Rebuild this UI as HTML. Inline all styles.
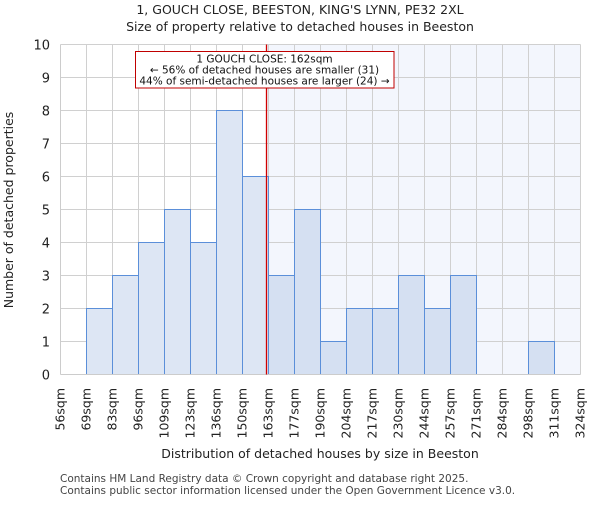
<!DOCTYPE html>
<html><head><meta charset="utf-8"><style>
body{margin:0;background:#fff}
svg{font-family:"DejaVu Sans","Liberation Sans",sans-serif}
</style></head><body>
<svg width="600" height="500" xmlns="http://www.w3.org/2000/svg">
<g id="root"></g>
</svg>
<script>
const binEdges=[56,69,83,96,109,123,136,150,163,177,190,204,217,230,244,257,271,284,298,311,324];
const counts=[0,2,3,4,5,4,8,6,3,5,1,2,2,3,2,3,0,0,1,0];
const yTicks=[0,1,2,3,4,5,6,7,8,9,10];
const markerValue=162;
const L=60.5,R=580.5,T=44.5,B=374.5,yMax=10;
const NS="http://www.w3.org/2000/svg";
const root=document.getElementById('root');
function xi(i){return L+(R-L)*i/(binEdges.length-1);}
function xv(v){for(let i=0;i<binEdges.length-1;i++){if(v<=binEdges[i+1]){return xi(i)+(v-binEdges[i])/(binEdges[i+1]-binEdges[i])*(xi(i+1)-xi(i));}}return R;}
function y(v){return B-(B-T)*v/yMax;}
function mk(t,a,txt){const e=document.createElementNS(NS,t);for(const k in a)e.setAttribute(k,a[k]);if(txt!==undefined)e.textContent=txt;root.appendChild(e);return e;}
let e;
const mx=xv(markerValue);
e=mk('rect',{x:mx,y:T,width:R-mx,height:B-T,fill:'#f3f6fd'});


for(const t of yTicks){e=mk('line',{x1:L,x2:R,y1:y(t),y2:y(t),stroke:'#d0d0d0','stroke-width':1});

}
for(let i=0;i<binEdges.length;i++){e=mk('line',{x1:xi(i),x2:xi(i),y1:T,y2:B,stroke:'#d0d0d0','stroke-width':1});

}
for(let i=0;i<counts.length;i++){if(!counts[i])continue;
e=mk('rect',{x:xi(i),y:y(counts[i]),width:xi(i+1)-xi(i),height:B-y(counts[i]),fill:xi(i)>=mx?'#d5e0f2':'#dde6f4',stroke:'#5b8fd9','stroke-width':1});

}
e=mk('line',{x1:L,x2:L,y1:T,y2:B,stroke:'#ccc'});


e=mk('line',{x1:L,x2:R,y1:B,y2:B,stroke:'#ccc'});


e=mk('line',{x1:mx,x2:mx,y1:T,y2:B,stroke:'#d00000','stroke-width':1.3});


for(const t of yTicks){e=mk('text',{x:50,y:y(t)+5,'text-anchor':'end','font-size':13,fill:'#222'},t);

}
for(let i=0;i<binEdges.length;i++){const xx=xi(i)+4;e=mk('text',{x:0,y:0,transform:'translate('+xx+',388) rotate(-90)','text-anchor':'end','font-size':12.5,fill:'#222'},binEdges[i]+'sqm');

}
e=mk('rect',{x:135.5,y:51.5,width:258.5,height:36.5,fill:'#fff',stroke:'#c00000','stroke-width':1});


const ann=['1 GOUCH CLOSE: 162sqm','← 56% of detached houses are smaller (31)','44% of semi-detached houses are larger (24) →'];
ann.forEach((s,k)=>{e=mk('text',{x:264.5,y:62.5+k*11,'text-anchor':'middle','font-size':10.5,fill:'#111'},s);

});
e=mk('text',{x:300,y:14,'text-anchor':'middle','font-size':12.5,fill:'#222'},'1, GOUCH CLOSE, BEESTON, KING\'S LYNN, PE32 2XL');


e=mk('text',{x:300,y:31,'text-anchor':'middle','font-size':12.5,fill:'#222'},'Size of property relative to detached houses in Beeston');


e=mk('text',{x:0,y:0,transform:'translate(13,210) rotate(-90)','text-anchor':'middle','font-size':12.5,fill:'#222'},'Number of detached properties');


e=mk('text',{x:320,y:458,'text-anchor':'middle','font-size':12.5,fill:'#222'},'Distribution of detached houses by size in Beeston');


e=mk('text',{x:60,y:482,'font-size':10.5,fill:'#444'},'Contains HM Land Registry data © Crown copyright and database right 2025.');


e=mk('text',{x:60,y:494,'font-size':10.5,fill:'#444'},'Contains public sector information licensed under the Open Government Licence v3.0.');


</script>
</body></html>
